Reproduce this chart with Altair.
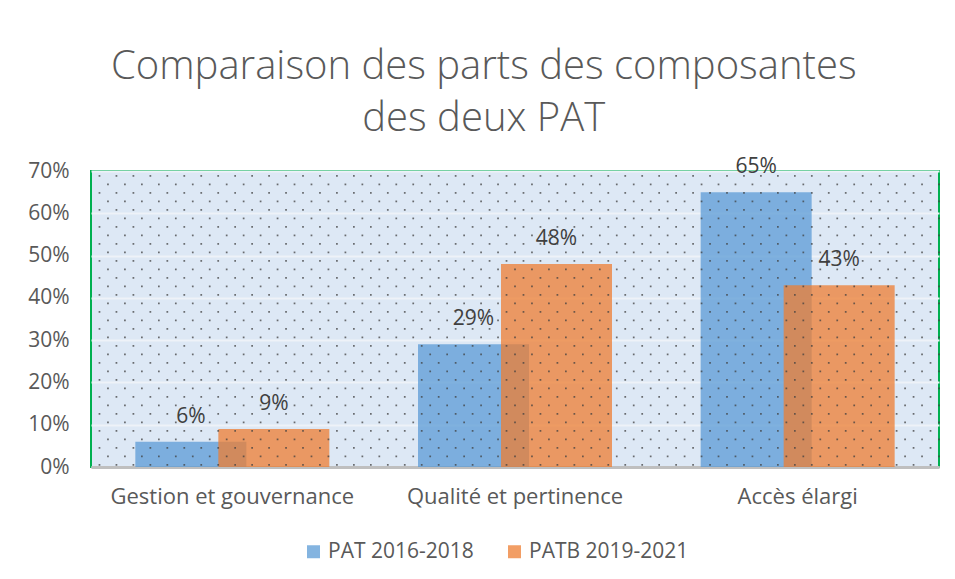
import altair as alt
import pandas as pd
import numpy as np

categories = ["Gestion et gouvernance", "Qualité et pertinence", "Accès élargi"]
series = ["PAT 2016-2018", "PATB 2019-2021"]
pat_2016 = [0.06, 0.29, 0.65]
patb_2019 = [0.09, 0.48, 0.43]
colors = ["#5b9bd5", "#ed7d31"]

df1 = pd.DataFrame({"cat": categories, "serie": series[0], "val": pat_2016})
df2 = pd.DataFrame({"cat": categories, "serie": series[1], "val": patb_2019})

# decorative dot pattern of the plot area (background texture)
xs = np.arange(0.03, 3.0, 0.06)
ys = np.arange(0.005, 0.70, 0.0201)
pts = []
for j, yv in enumerate(ys):
    off = 0.0 if j % 2 == 0 else 0.03
    for xv in xs:
        if xv + off < 3.0:
            pts.append({"px": xv + off, "val": yv})
dots = pd.DataFrame(pts)

FONT = "Open Sans"
TXT = "#595959"
FS = 21

xenc = alt.X("cat:N", sort=categories, title=None,
             scale=alt.Scale(paddingInner=0, paddingOuter=0),
             axis=alt.Axis(labelFontSize=22, labelColor=TXT, labelFont=FONT,
                           labelPadding=19, ticks=False, domainColor="#bfbfbf",
                           domainWidth=3, labelAngle=0, labelLimit=0))
yenc = alt.Y("val:Q", title=None,
             scale=alt.Scale(domain=[0, 0.7], nice=False),
             axis=alt.Axis(format=".0%", values=[0, .1, .2, .3, .4, .5, .6, .7],
                           labelFontSize=FS, labelColor=TXT, labelFont=FONT,
                           ticks=False, domain=False, labelPadding=22,
                           gridColor="#eef2f8", gridWidth=2))

color = alt.Color("serie:N", scale=alt.Scale(domain=series, range=colors),
                  legend=alt.Legend(title=None, orient="none", direction="horizontal",
                                    legendX=212, legendY=370,
                                    symbolType="square", symbolSize=169, symbolOpacity=0.75,
                                    symbolStrokeWidth=0,
                                    labelFontSize=FS, labelColor=TXT, labelFont=FONT,
                                    columnPadding=30))

bar1 = alt.Chart(df1).mark_bar(width=111, xOffset=-41.5, opacity=0.75).encode(
    x=xenc, y=yenc, color=color)
bar2 = alt.Chart(df2).mark_bar(width=111, xOffset=41.5, opacity=0.75).encode(
    x=xenc, y=yenc, color=color)
lab1 = alt.Chart(df1).mark_text(xOffset=-41.5, dy=-25, fontSize=FS, color="#404040",
                                font=FONT).encode(
    x=xenc, y=yenc, text=alt.Text("val:Q", format=".0%"))
lab2 = alt.Chart(df2).mark_text(xOffset=41.5, dy=-25, fontSize=FS, color="#404040",
                                font=FONT).encode(
    x=xenc, y=yenc, text=alt.Text("val:Q", format=".0%"))

dotlayer = alt.Chart(dots).mark_square(size=3, color="#404040", opacity=0.75).encode(
    x=alt.X("px:Q", scale=alt.Scale(domain=[0, 3], nice=False), axis=None),
    y=yenc)

bars = alt.layer(bar1, bar2, lab1, lab2)
chart = alt.layer(bars, dotlayer).resolve_scale(x="independent").properties(
    width=848, height=296,
    title=alt.Title(["Comparaison des parts des composantes", "des deux PAT"],
                    fontSize=40, font=FONT, fontWeight=300, color=TXT,
                    anchor="middle", frame="bounds", lineHeight=52, offset=17),
    padding={"left": 27, "top": 47, "right": 10, "bottom": 5},
).configure(background="white").configure_view(
    fill="#dde8f5", stroke="#00b050", strokeWidth=2)

chart.save("out.html", embed_options={"renderer": "svg", "actions": False})
